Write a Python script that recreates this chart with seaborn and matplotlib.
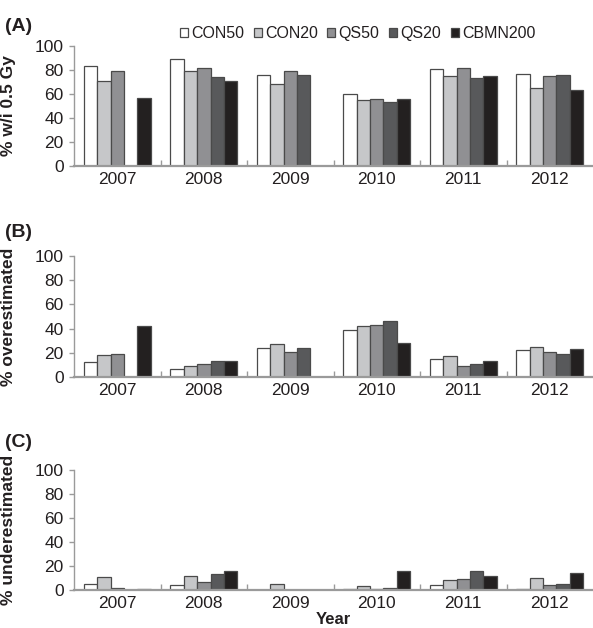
import numpy as np
import pandas as pd
import seaborn as sns
from matplotlib import pyplot as plt

YEARS = ['2007', '2008', '2009', '2010', '2011', '2012']
SERIES = ['CON50', 'CON20', 'QS50', 'QS20', 'CBMN200']
COLORS = ['#ffffff', '#c6c7c9', '#8f9093', '#58595b', '#231f20']
NA = np.nan

# (A) % within 0.5 Gy
a_con50 = [83, 89, 76, 60, 81, 77]
a_con20 = [71, 79, 68, 55, 75, 65]
a_qs50 = [79, 82, 79, 56, 82, 75]
a_qs20 = [NA, 74, 76, 53, 73, 76]
a_cbmn = [57, 71, NA, 56, 75, 63]

# (B) % overestimated
b_con50 = [12, 7, 24, 39, 15, 22]
b_con20 = [18, 9, 27, 42, 17, 25]
b_qs50 = [19, 11, 21, 43, 9, 21]
b_qs20 = [NA, 13, 24, 46, 11, 19]
b_cbmn = [42, 13, NA, 28, 13, 23]

# (C) % underestimated
c_con50 = [5, 4, 0, 0.5, 4, 0.5]
c_con20 = [11, 12, 5, 3, 8, 10]
c_qs50 = [2, 7, 0, 1, 9, 4]
c_qs20 = [NA, 13, 0, 2, 16, 5]
c_cbmn = [1, 16, NA, 16, 12, 14]

PANELS = [
    ('(A)', '% w/i 0.5 Gy', [a_con50, a_con20, a_qs50, a_qs20, a_cbmn]),
    ('(B)', '% overestimated', [b_con50, b_con20, b_qs50, b_qs20, b_cbmn]),
    ('(C)', '% underestimated', [c_con50, c_con20, c_qs50, c_qs20, c_cbmn]),
]


def to_long(values):
    rows = []
    for name, vals in zip(SERIES, values):
        for year, v in zip(YEARS, vals):
            rows.append((year, name, v))
    return pd.DataFrame(rows, columns=['year', 'method', 'pct'])


sns.set_style('ticks')
plt.rcParams['font.family'] = ['Liberation Sans', 'DejaVu Sans']
TXT = '#231f20'
SPINE = '#9a9a9a'

fig = plt.figure(figsize=(5.93, 6.28), dpi=100)
# axes boxes (left, bottom, width, height) in figure fractions
boxes = [(0.1248, 0.7357, 0.8752, 0.1911),
         (0.1248, 0.3997, 0.8752, 0.1927),
         (0.1248, 0.0605, 0.8752, 0.1911)]
label_y = [0.958, 0.630, 0.296]

handles = None
for i, (tag, ylab, values) in enumerate(PANELS):
    ax = fig.add_axes(boxes[i])
    df = to_long(values)
    sns.barplot(data=df, x='year', y='pct', hue='method', order=YEARS,
                hue_order=SERIES, palette=COLORS, errorbar=None, width=0.78,
                edgecolor='#4a4a4a', linewidth=0.9, ax=ax, legend=(i == 0))
    if i == 0:
        handles, labels = ax.get_legend_handles_labels()
        ax.get_legend().remove()
    ax.set_xlim(-0.5, 5.5)
    ax.set_ylim(0, 100)
    ax.set_yticks([0, 20, 40, 60, 80, 100])
    ax.set_xticks(np.arange(0.5, 5.0, 1.0), minor=True)
    ax.tick_params(axis='x', which='major', length=0, labelsize=12.5,
                   labelcolor=TXT, pad=4)
    ax.tick_params(axis='x', which='minor', direction='in', length=4,
                   color=SPINE, width=1)
    ax.tick_params(axis='y', length=3.5, color=SPINE, width=1, labelsize=12.5,
                   labelcolor=TXT, pad=4)
    sns.despine(ax=ax)
    for s in ('left', 'bottom'):
        ax.spines[s].set_color(SPINE)
        ax.spines[s].set_linewidth(1.6 if s == 'bottom' else 1)
    ax.set_ylabel(ylab, fontsize=12.5, fontweight='bold', color=TXT)
    ax.yaxis.set_label_coords(-0.112, 0.5)
    ax.set_xlabel('Year' if i == 2 else '', fontsize=12, fontweight='bold',
                  color=TXT, labelpad=1)
    fig.text(0.008, label_y[i], tag, fontsize=14, fontweight='bold',
             color=TXT, va='center', ha='left')

fig.legend(handles, labels, loc='center', bbox_to_anchor=(0.603, 0.947),
           ncol=5, frameon=False, fontsize=11.5, handlelength=0.5,
           handleheight=0.5, handletextpad=0.2, columnspacing=0.6,
           labelcolor=TXT, borderaxespad=0)

fig.savefig('out.png', dpi=100)
